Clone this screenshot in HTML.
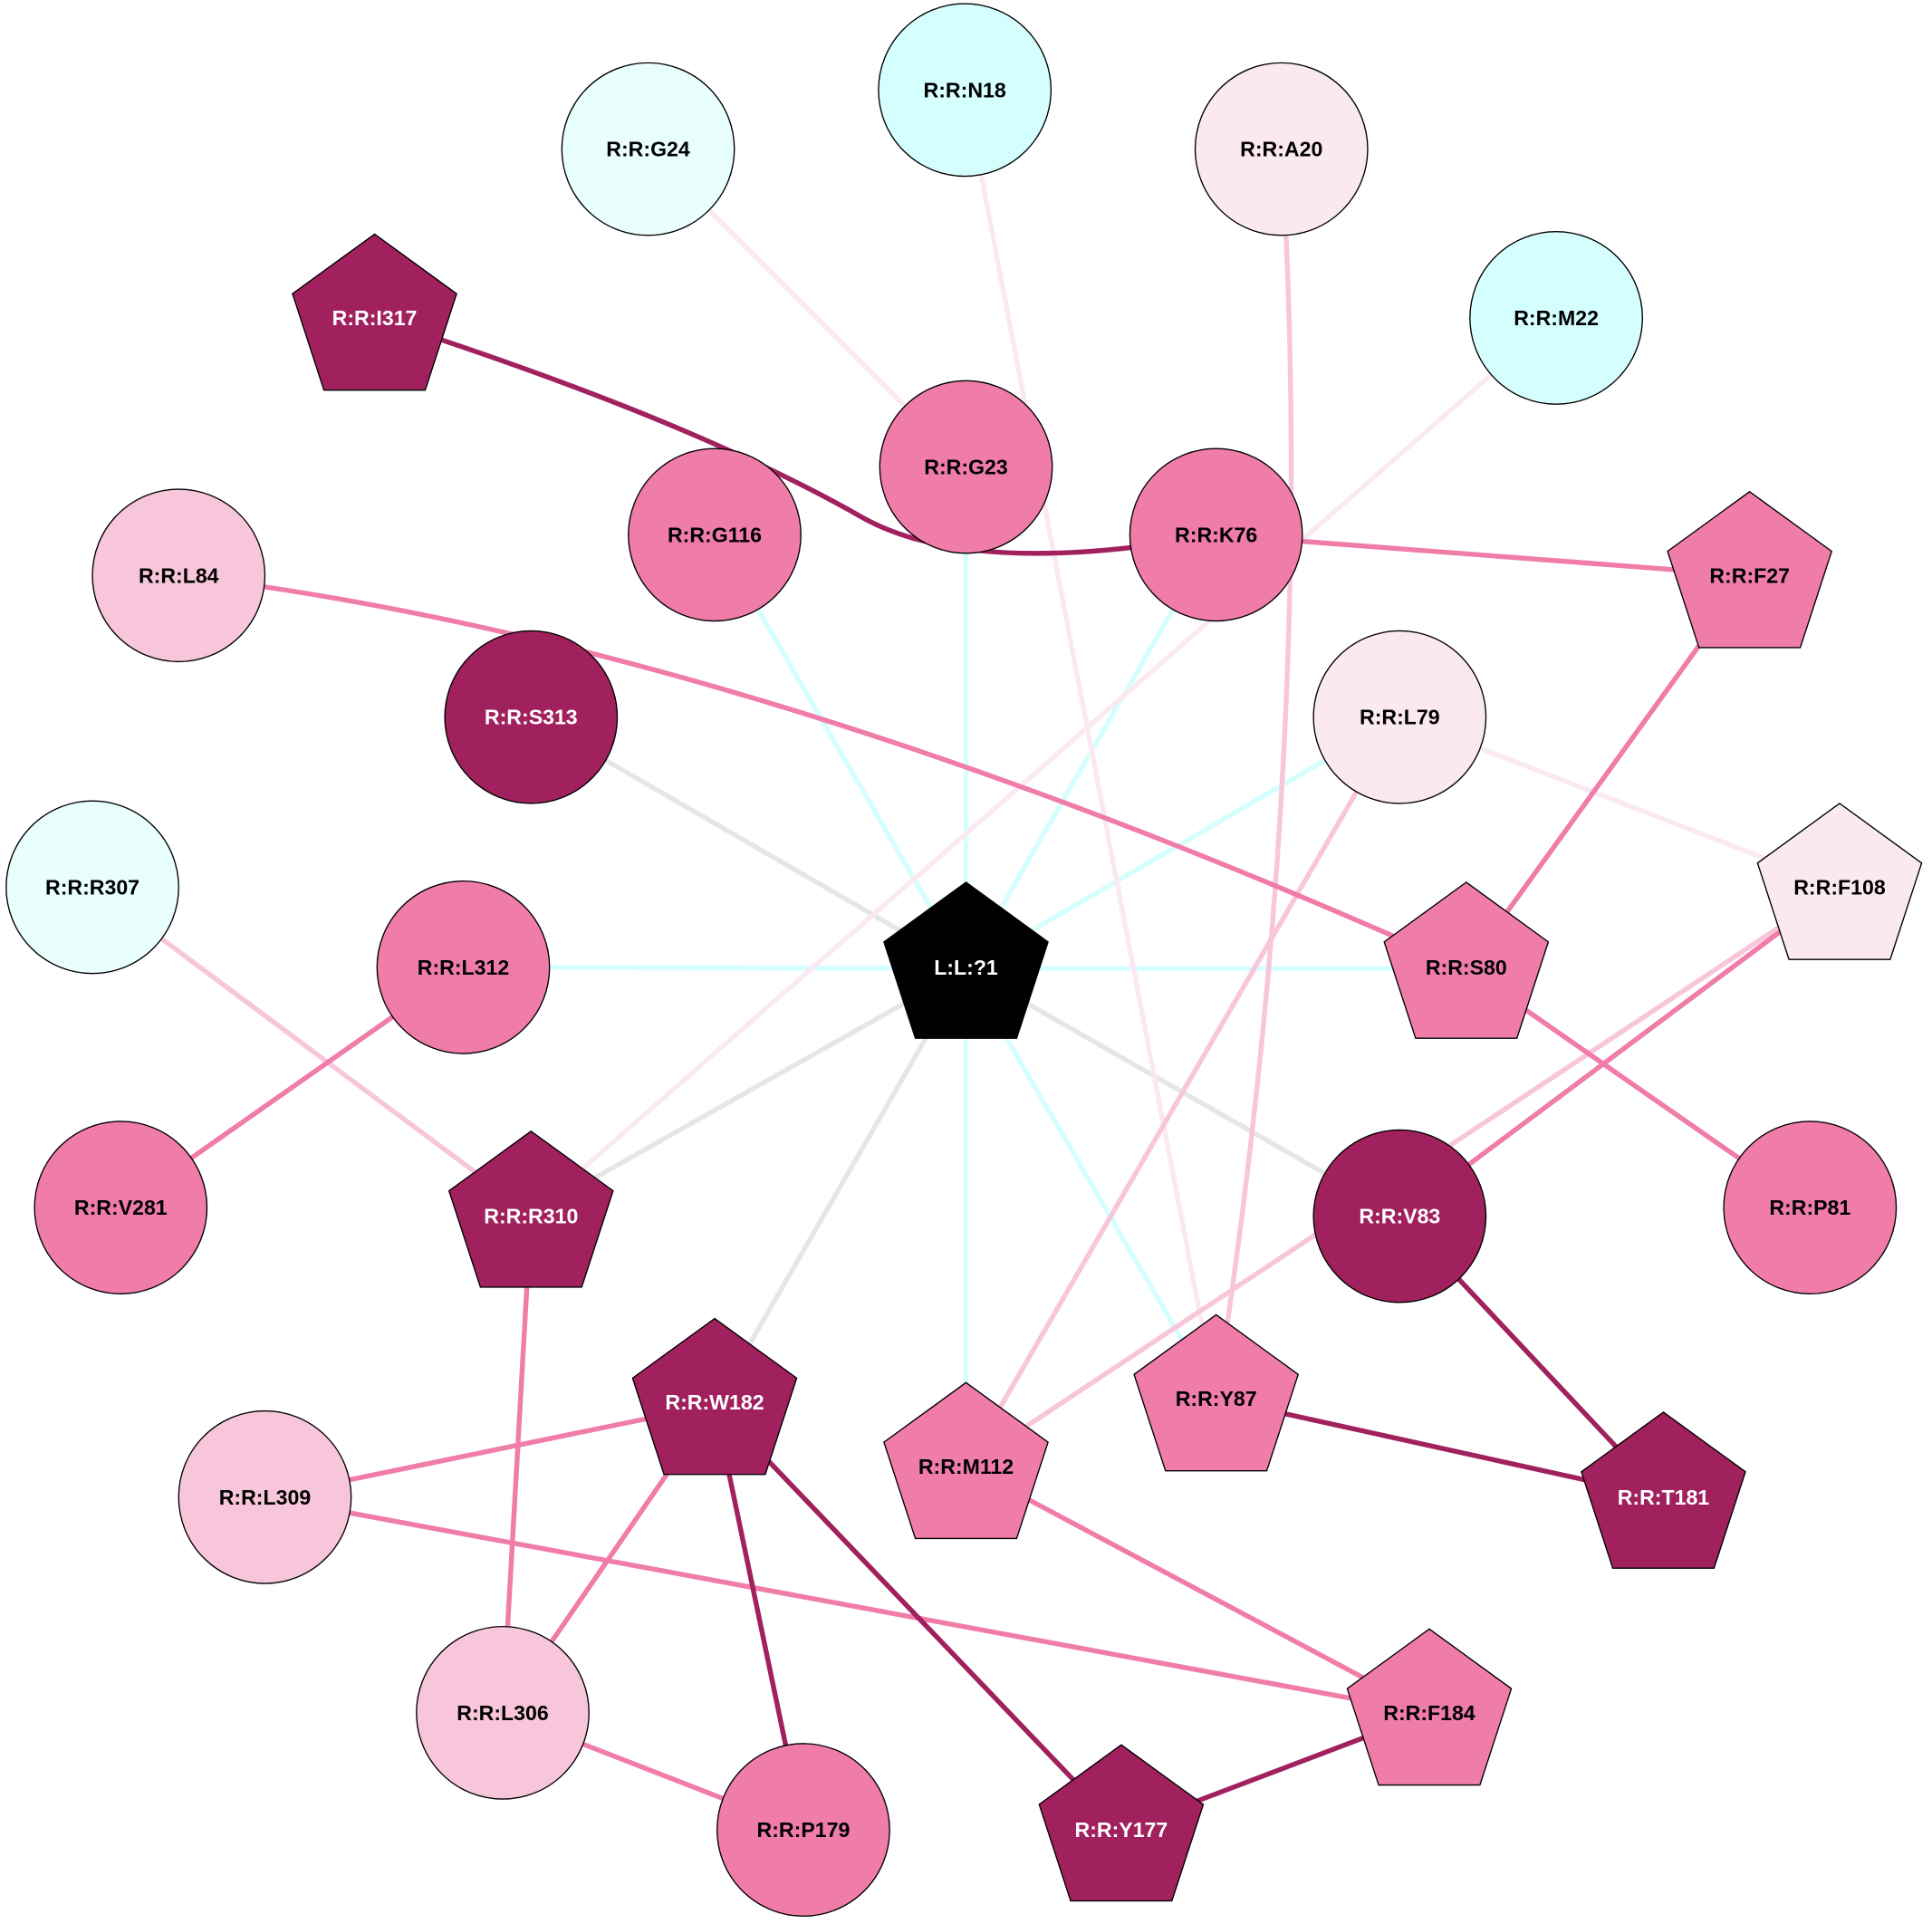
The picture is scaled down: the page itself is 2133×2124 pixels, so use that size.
<!DOCTYPE html>
<html><head><meta charset="utf-8"><style>html,body{margin:0;padding:0;background:#fff}svg{display:block}</style></head>
<body>
<svg width="2133" height="2124" viewBox="0 0 1568 1561.4" preserveAspectRatio="none" xmlns="http://www.w3.org/2000/svg" font-family="Liberation Sans, Arial, sans-serif" font-weight="bold" font-size="17">
<defs>
<g id="pent"><polygon points="0,-70 66.6,-21.6 41.1,56.6 -41.1,56.6 -66.6,-21.6"/></g>
</defs>
<g fill="none" stroke-width="4">
<!-- center edges -->
<g stroke="#d5fffe">
<line x1="784" y1="786" x2="580" y2="434"/>
<line x1="784" y1="786" x2="784" y2="379"/>
<line x1="784" y1="786" x2="987" y2="434"/>
<line x1="784" y1="786" x2="1136" y2="582"/>
<line x1="784" y1="786" x2="1190" y2="786"/>
<line x1="784" y1="786" x2="376" y2="785"/>
<line x1="784" y1="786" x2="784" y2="1190"/>
<line x1="784" y1="786" x2="987" y2="1135"/>
</g>
<g stroke="#e6e6e6">
<line x1="784" y1="786" x2="431" y2="582"/>
<line x1="784" y1="786" x2="431" y2="985"/>
<line x1="784" y1="786" x2="580" y2="1140"/>
<line x1="784" y1="786" x2="1136" y2="987"/>
</g>
<g stroke="#fbe9f1">
<line x1="526" y1="121" x2="784" y2="379"/>
<line x1="783" y1="73" x2="987" y2="1135"/>
<line x1="1263" y1="258" x2="431" y2="985"/>
<line x1="1136" y1="582" x2="1493" y2="720"/>
</g>
<g stroke="#f8c6da">
<path d="M1040,121 Q1070,600 987,1135"/>
<line x1="1136" y1="582" x2="784" y2="1190"/>
<line x1="1493" y1="720" x2="784" y2="1190"/>
<line x1="75" y1="720" x2="431" y2="985"/>
</g>
<g stroke="#f07caa">
<line x1="987" y1="434" x2="1420" y2="467"/>
<line x1="1420" y1="467" x2="1190" y2="786"/>
<path d="M145,467 Q600,520 1190,786"/>
<line x1="1493" y1="720" x2="1136" y2="987"/>
<line x1="1190" y1="786" x2="1469" y2="980"/>
<line x1="376" y1="785" x2="98" y2="980"/>
<line x1="431" y1="985" x2="408" y2="1390"/>
<line x1="580" y1="1140" x2="215" y2="1215"/>
<line x1="580" y1="1140" x2="408" y2="1390"/>
<line x1="215" y1="1215" x2="1160" y2="1390"/>
<line x1="784" y1="1190" x2="1160" y2="1390"/>
<line x1="408" y1="1390" x2="652" y2="1485"/>
</g>
<g stroke="#a0215e">
<path d="M304,258 Q560,340 700,420 Q790,470 987,434"/>
<line x1="580" y1="1140" x2="652" y2="1485"/>
<line x1="580" y1="1140" x2="910" y2="1485"/>
<line x1="1160" y1="1390" x2="910" y2="1485"/>
<line x1="987" y1="1135" x2="1350" y2="1215"/>
<line x1="1136" y1="987" x2="1350" y2="1215"/>
</g>
</g>
<g stroke="#000" stroke-width="1">
<circle cx="783" cy="73" r="70" fill="#d5fffe"/>
<circle cx="526" cy="121" r="70" fill="#e8fffe"/>
<circle cx="1040" cy="121" r="70" fill="#fbe9f1"/>
<circle cx="1263" cy="258" r="70" fill="#d5fffe"/>
<use href="#pent" x="304" y="260" fill="#a0215e"/>
<circle cx="784" cy="379" r="70" fill="#f07caa"/>
<circle cx="580" cy="434" r="70" fill="#f07caa"/>
<circle cx="987" cy="434" r="70" fill="#f07caa"/>
<circle cx="145" cy="467" r="70" fill="#f8c6da"/>
<use href="#pent" x="1420" y="469" fill="#f07caa"/>
<circle cx="431" cy="582" r="70" fill="#a0215e"/>
<circle cx="1136" cy="582" r="70" fill="#fbe9f1"/>
<circle cx="75" cy="720" r="70" fill="#e8fffe"/>
<use href="#pent" x="1493" y="722" fill="#fbe9f1"/>
<circle cx="376" cy="785" r="70" fill="#f07caa"/>
<use href="#pent" x="784" y="786" fill="#000"/>
<use href="#pent" x="1190" y="786" fill="#f07caa"/>
<circle cx="98" cy="980" r="70" fill="#f07caa"/>
<use href="#pent" x="431" y="988" fill="#a0215e"/>
<circle cx="1136" cy="987" r="70" fill="#a0215e"/>
<circle cx="1469" cy="980" r="70" fill="#f07caa"/>
<use href="#pent" x="580" y="1140" fill="#a0215e"/>
<use href="#pent" x="987" y="1137" fill="#f07caa"/>
<use href="#pent" x="784" y="1192" fill="#f07caa"/>
<use href="#pent" x="1350" y="1216" fill="#a0215e"/>
<circle cx="215" cy="1215" r="70" fill="#f8c6da"/>
<circle cx="408" cy="1390" r="70" fill="#f8c6da"/>
<use href="#pent" x="1160" y="1392" fill="#f07caa"/>
<circle cx="652" cy="1485" r="70" fill="#f07caa"/>
<use href="#pent" x="910" y="1486" fill="#a0215e"/>
</g>
<g text-anchor="middle" dominant-baseline="central" fill="#000">
<text x="783" y="73">R:R:N18</text>
<text x="526" y="121">R:R:G24</text>
<text x="1040" y="121">R:R:A20</text>
<text x="1263" y="258">R:R:M22</text>
<text x="784" y="379">R:R:G23</text>
<text x="580" y="434">R:R:G116</text>
<text x="987" y="434">R:R:K76</text>
<text x="145" y="467">R:R:L84</text>
<text x="1420" y="467">R:R:F27</text>
<text x="1136" y="582">R:R:L79</text>
<text x="75" y="720">R:R:R307</text>
<text x="1493" y="720">R:R:F108</text>
<text x="376" y="785">R:R:L312</text>
<text x="1190" y="785">R:R:S80</text>
<text x="98" y="980">R:R:V281</text>
<text x="1469" y="980">R:R:P81</text>
<text x="987" y="1135">R:R:Y87</text>
<text x="784" y="1190">R:R:M112</text>
<text x="215" y="1215">R:R:L309</text>
<text x="408" y="1390">R:R:L306</text>
<text x="1160" y="1390">R:R:F184</text>
<text x="652" y="1485">R:R:P179</text>
</g>
<g text-anchor="middle" dominant-baseline="central" fill="#fff">
<text x="304" y="258">R:R:I317</text>
<text x="431" y="582">R:R:S313</text>
<text x="784" y="785">L:L:?1</text>
<text x="431" y="987">R:R:R310</text>
<text x="1136" y="987">R:R:V83</text>
<text x="580" y="1138">R:R:W182</text>
<text x="1350" y="1215">R:R:T181</text>
<text x="910" y="1485">R:R:Y177</text>
</g>
</svg>
</body></html>
